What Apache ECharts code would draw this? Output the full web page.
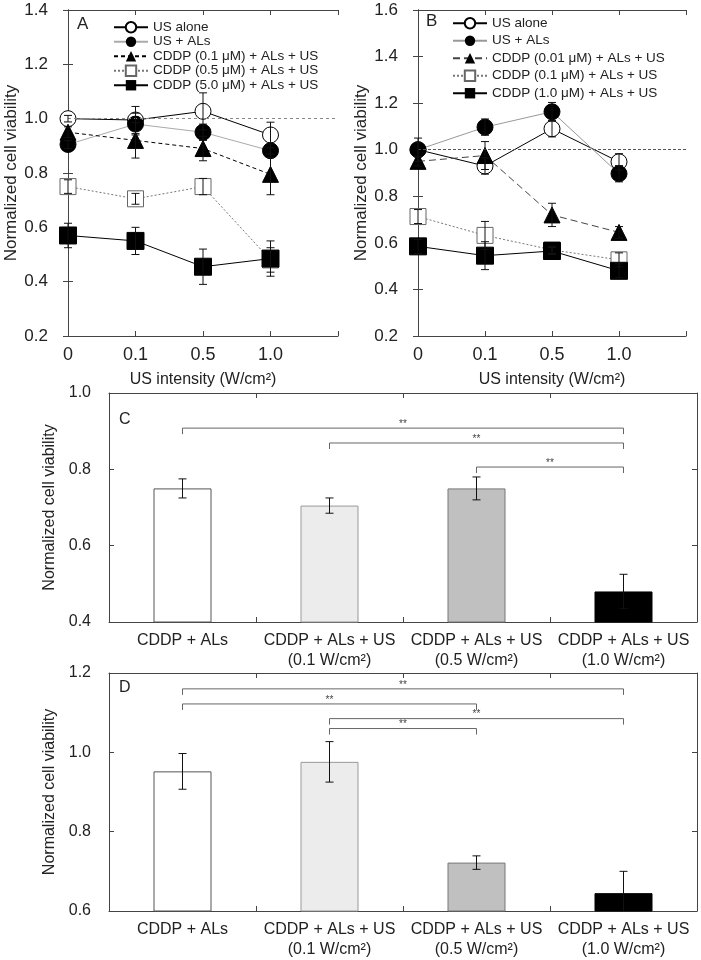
<!DOCTYPE html>
<html><head><meta charset="utf-8">
<script src="https://cdn.jsdelivr.net/npm/echarts@6/dist/echarts.min.js"></script>
<style>html,body{margin:0;padding:0;background:#fff}#c{width:701px;height:960px}</style>
</head><body><div id="c"></div>
<script>
// ---------- data ----------
const intensityLabels = ['0', '0.1', '0.5', '1.0'];

// Panel A
const aUsAlone = [1.0, 0.995, 1.027, 0.94];
const aUsAloneErr = [0.012, 0.05, 0.068, 0.047];
const aUsAls = [0.905, 0.98, 0.95, 0.882];
const aUsAlsErr = [0.015, 0.04, 0.03, 0.025];
const aCddp01 = [0.95, 0.92, 0.89, 0.795];
const aCddp01Err = [0.02, 0.065, 0.045, 0.075];
const aCddp05 = [0.75, 0.705, 0.75, 0.48];
const aCddp05Err = [0.025, 0.02, 0.03, 0.045];
const aCddp50 = [0.57, 0.55, 0.455, 0.485];
const aCddp50Err = [0.045, 0.05, 0.065, 0.065];

// Panel B
const bUsAlone = [1.0, 0.93, 1.09, 0.948];
const bUsAloneErr = [0.05, 0.035, 0.035, 0.035];
const bUsAls = [1.0, 1.097, 1.163, 0.897];
const bUsAlsErr = [0.03, 0.035, 0.04, 0.035];
const bCddp001 = [0.95, 0.975, 0.72, 0.645];
const bCddp001Err = [0.02, 0.06, 0.05, 0.025];
const bCddp01 = [0.713, 0.632, 0.57, 0.527];
const bCddp01Err = [0.03, 0.06, 0.015, 0.03];
const bCddp10 = [0.585, 0.545, 0.565, 0.48];
const bCddp10Err = [0.03, 0.06, 0.015, 0.03];

// Panels C and D
const barCategories = ['CDDP + ALs', 'CDDP + ALs + US\n(0.1 W/cm²)', 'CDDP + ALs + US\n(0.5 W/cm²)', 'CDDP + ALs + US\n(1.0 W/cm²)'];
const cVals = [0.75, 0.705, 0.75, 0.48];
const cErr = [0.025, 0.02, 0.03, 0.045];
const cBrackets = [[0, 3, 0.908], [1, 3, 0.869], [2, 3, 0.806]];
const dVals = [0.952, 0.976, 0.722, 0.645];
const dErr = [0.045, 0.051, 0.017, 0.055];
const dBrackets = [[0, 3, 1.16], [0, 2, 1.122], [1, 3, 1.085], [1, 2, 1.06]];

// Legend / series names (panel B names carry a trailing space so the two legends stay separate)
const aNames = ['US alone', 'US + ALs', 'CDDP (0.1 μM) + ALs + US', 'CDDP (0.5 μM) + ALs + US', 'CDDP (5.0 μM) + ALs + US'];
const bNames = ['US alone ', 'US + ALs ', 'CDDP (0.01 μM) + ALs + US ', 'CDDP (0.1 μM) + ALs + US ', 'CDDP (1.0 μM) + ALs + US '];

// ---------- styles ----------
const FONT = 'Liberation Sans, Arial, sans-serif';
const TXT = '#222';
const AX = '#444';
const barColors = ['#ffffff', '#ececec', '#c0c0c0', '#000000'];
const barBorders = ['#555', '#999', '#777', '#000'];

const chart = echarts.init(document.getElementById('c'), null, {renderer: 'canvas'});

function errRender(params, api) {
  const x = api.value(0), y = api.value(1), e = api.value(2);
  const cs = params.coordSys;
  const bottom = cs.y + cs.height;
  const p1 = api.coord([x, y + e]), p2 = api.coord([x, y - e]);
  const clipped = p2[1] > bottom;
  const y2 = clipped ? bottom : p2[1];
  const w = 4, st = {stroke: '#111', lineWidth: 1};
  const kids = [
    {type: 'line', shape: {x1: p1[0], y1: p1[1], x2: p2[0], y2: y2}, style: st},
    {type: 'line', shape: {x1: p1[0] - w, y1: p1[1], x2: p1[0] + w, y2: p1[1]}, style: st}
  ];
  if (!clipped) kids.push({type: 'line', shape: {x1: p2[0] - w, y1: p2[1], x2: p2[0] + w, y2: p2[1]}, style: st});
  return {type: 'group', children: kids};
}
function bracketRender(params, api) {
  const a = api.value(0), b = api.value(1), y = api.value(2);
  const pA = api.coord([a, y]), pB = api.coord([b, y]);
  const drop = 6;
  return {type: 'group', children: [
    {type: 'polyline', shape: {points: [[pA[0], pA[1] + drop], [pA[0], pA[1]], [pB[0], pB[1]], [pB[0], pB[1] + drop]]},
     style: {stroke: '#666', fill: null, lineWidth: 1}},
    {type: 'text', style: {text: '**', x: (pA[0] + pB[0]) / 2, y: pA[1] + 1, align: 'center', verticalAlign: 'bottom',
      fontSize: 10, fill: '#444', fontFamily: FONT}}
  ]};
}
function errSeries(vals, errs, xi, yi) {
  return {type: 'custom', coordinateSystem: 'cartesian2d', xAxisIndex: xi, yAxisIndex: yi, z: 5, silent: true,
    renderItem: errRender, encode: {x: 0, y: 1}, data: vals.map((v, i) => [i, v, errs[i]])};
}
function lineSeries(name, vals, xi, yi, st) {
  return {type: 'line', name: name, xAxisIndex: xi, yAxisIndex: yi, data: vals.map((v, i) => [i, v]),
    symbol: st.symbol, symbolSize: st.size, showAllSymbol: true, animation: false,
    itemStyle: st.item, lineStyle: st.line, z: 3};
}
function refLine(color, type) {
  return {silent: true, symbol: 'none', label: {show: false}, animation: false,
    lineStyle: {color: color, type: type, width: 1}, data: [{yAxis: 1}]};
}

const openCircle = {symbol: 'circle', size: 16, item: {color: '#fff', borderColor: '#000', borderWidth: 1}};
const fillCircle = {symbol: 'circle', size: 16, item: {color: '#000', borderColor: '#000'}};
const fillTri = {symbol: 'triangle', size: 16, item: {color: '#000', borderColor: '#000'}};
const openSq = {symbol: 'rect', size: 16, item: {color: '#fff', borderColor: '#666', borderWidth: 1}};
const fillSq = {symbol: 'rect', size: 17, item: {color: '#000', borderColor: '#000'}};

const series = [];
// Panel A
const sA0 = lineSeries(aNames[0], aUsAlone, 0, 0, Object.assign({}, openCircle, {line: {color: '#000', width: 1}}));
sA0.markLine = refLine('#888', [3, 3]);
series.push(sA0);
series.push(lineSeries(aNames[1], aUsAls, 0, 0, Object.assign({}, fillCircle, {line: {color: '#aaa', width: 1}})));
series.push(lineSeries(aNames[2], aCddp01, 0, 0, Object.assign({}, fillTri, {line: {color: '#000', width: 1, type: [4, 3]}})));
series.push(lineSeries(aNames[3], aCddp05, 0, 0, Object.assign({}, openSq, {line: {color: '#777', width: 1, type: [2, 2]}})));
series.push(lineSeries(aNames[4], aCddp50, 0, 0, Object.assign({}, fillSq, {line: {color: '#000', width: 1}})));
series.push(errSeries(aUsAlone, aUsAloneErr, 0, 0));
series.push(errSeries(aUsAls, aUsAlsErr, 0, 0));
series.push(errSeries(aCddp01, aCddp01Err, 0, 0));
series.push(errSeries(aCddp05, aCddp05Err, 0, 0));
series.push(errSeries(aCddp50, aCddp50Err, 0, 0));
// Panel B
const sB0 = lineSeries(bNames[0], bUsAlone, 2, 2, Object.assign({}, openCircle, {line: {color: '#000', width: 1}}));
sB0.markLine = refLine('#555', [3, 2]);
series.push(sB0);
series.push(lineSeries(bNames[1], bUsAls, 2, 2, Object.assign({}, fillCircle, {line: {color: '#999', width: 1}})));
series.push(lineSeries(bNames[2], bCddp001, 2, 2, Object.assign({}, fillTri, {line: {color: '#444', width: 1, type: [7, 4]}})));
series.push(lineSeries(bNames[3], bCddp01, 2, 2, Object.assign({}, openSq, {line: {color: '#777', width: 1, type: [2, 2]}})));
series.push(lineSeries(bNames[4], bCddp10, 2, 2, Object.assign({}, fillSq, {line: {color: '#000', width: 1}})));
series.push(errSeries(bUsAlone, bUsAloneErr, 2, 2));
series.push(errSeries(bUsAls, bUsAlsErr, 2, 2));
series.push(errSeries(bCddp001, bCddp001Err, 2, 2));
series.push(errSeries(bCddp01, bCddp01Err, 2, 2));
series.push(errSeries(bCddp10, bCddp10Err, 2, 2));
// Panels C, D
function barSeries(vals, xi, yi) {
  return {type: 'bar', xAxisIndex: xi, yAxisIndex: yi, barWidth: 58, animation: false, z: 2,
    data: vals.map((v, i) => ({value: v, itemStyle: {color: barColors[i], borderColor: barBorders[i], borderWidth: 1}}))};
}
function bracketSeries(br, xi, yi) {
  return {type: 'custom', coordinateSystem: 'cartesian2d', xAxisIndex: xi, yAxisIndex: yi, z: 6, silent: true,
    renderItem: bracketRender, encode: {x: [0, 1], y: 2}, data: br};
}
series.push(barSeries(cVals, 4, 4));
series.push(errSeries(cVals, cErr, 4, 4));
series.push(bracketSeries(cBrackets, 4, 4));
series.push(barSeries(dVals, 6, 6));
series.push(errSeries(dVals, dErr, 6, 6));
series.push(bracketSeries(dBrackets, 6, 6));

// ---------- axes ----------
const grids = [
  {left: 68, top: 10, width: 270, height: 326},
  {left: 418, top: 10, width: 268, height: 326},
  {left: 109, top: 393, width: 588, height: 229},
  {left: 109, top: 673, width: 588, height: 240}
];
const axLine = {show: true, lineStyle: {color: AX, width: 1}};
const tickIn = {show: true, inside: true, length: 5, lineStyle: {color: AX}};

function intensityAxis(g) {
  return [
    {type: 'value', gridIndex: g, min: 0, max: 4, interval: 1, position: 'bottom', axisLine: axLine, axisTick: tickIn,
     splitLine: {show: false},
     axisLabel: {formatter: v => intensityLabels[v] !== undefined ? intensityLabels[v] : '', fontSize: 18, color: TXT, fontFamily: FONT, margin: 10},
     name: 'US intensity (W/cm²)', nameLocation: 'middle', nameGap: 36,
     nameTextStyle: {fontSize: 16, color: TXT, fontFamily: FONT}},
    {type: 'value', gridIndex: g, min: 0, max: 4, interval: 1, position: 'top', axisLine: axLine, axisTick: tickIn,
     splitLine: {show: false}, axisLabel: {show: false}}
  ];
}
function catAxis(g) {
  return [
    {type: 'category', gridIndex: g, data: barCategories, position: 'bottom', axisLine: axLine,
     axisTick: {show: true, inside: true, length: 5, alignWithLabel: false, lineStyle: {color: AX}},
     axisLabel: {interval: 0, fontSize: 16, lineHeight: 20, color: TXT, fontFamily: FONT, margin: 9}},
    {type: 'category', gridIndex: g, data: barCategories, position: 'top', axisLine: axLine,
     axisTick: {show: true, inside: true, length: 5, alignWithLabel: false, lineStyle: {color: AX}},
     axisLabel: {show: false}}
  ];
}
function viabAxis(g, min, max, fs, nameFs, gap, margin) {
  return [
    {type: 'value', gridIndex: g, min: min, max: max, interval: 0.2, position: 'left', axisLine: axLine, axisTick: tickIn,
     splitLine: {show: false},
     axisLabel: {formatter: v => v.toFixed(1), fontSize: fs, color: TXT, fontFamily: FONT, margin: margin},
     name: 'Normalized cell viability', nameLocation: 'middle', nameGap: gap,
     nameTextStyle: {fontSize: nameFs, color: TXT, fontFamily: FONT}},
    {type: 'value', gridIndex: g, min: min, max: max, interval: 0.2, position: 'right', axisLine: axLine, axisTick: tickIn,
     splitLine: {show: false}, axisLabel: {show: false}}
  ];
}

const xAxes = [].concat(intensityAxis(0), intensityAxis(1), catAxis(2), catAxis(3));
const yAxes = [].concat(viabAxis(0, 0.2, 1.4, 17, 17, 48, 20), viabAxis(1, 0.2, 1.6, 17, 17, 48, 20),
  viabAxis(2, 0.4, 1.0, 16, 16, 46, 18), viabAxis(3, 0.6, 1.2, 16, 16, 51, 18));

const legendCommon = {orient: 'vertical', itemWidth: 34, itemHeight: 13, selectedMode: false,
  textStyle: {fontSize: 13.5, color: TXT, fontFamily: FONT, lineHeight: 14.5}};

const option = {
  animation: false,
  backgroundColor: '#fff',
  grid: grids,
  xAxis: xAxes,
  yAxis: yAxes,
  legend: [
    Object.assign({}, legendCommon, {data: aNames, left: 108, top: 15, itemGap: 0}),
    Object.assign({}, legendCommon, {data: bNames, left: 447, top: 11, itemGap: 3})
  ],
  graphic: [
    {type: 'text', left: 77, top: 16, style: {text: 'A', fontSize: 17, fill: TXT, fontFamily: FONT}},
    {type: 'text', left: 426, top: 13, style: {text: 'B', fontSize: 17, fill: TXT, fontFamily: FONT}},
    {type: 'text', left: 119, top: 412, style: {text: 'C', fontSize: 16, fill: TXT, fontFamily: FONT}},
    {type: 'text', left: 119, top: 680, style: {text: 'D', fontSize: 16, fill: TXT, fontFamily: FONT}}
  ],
  series: series
};
chart.setOption(option);
</script>
</body></html>
